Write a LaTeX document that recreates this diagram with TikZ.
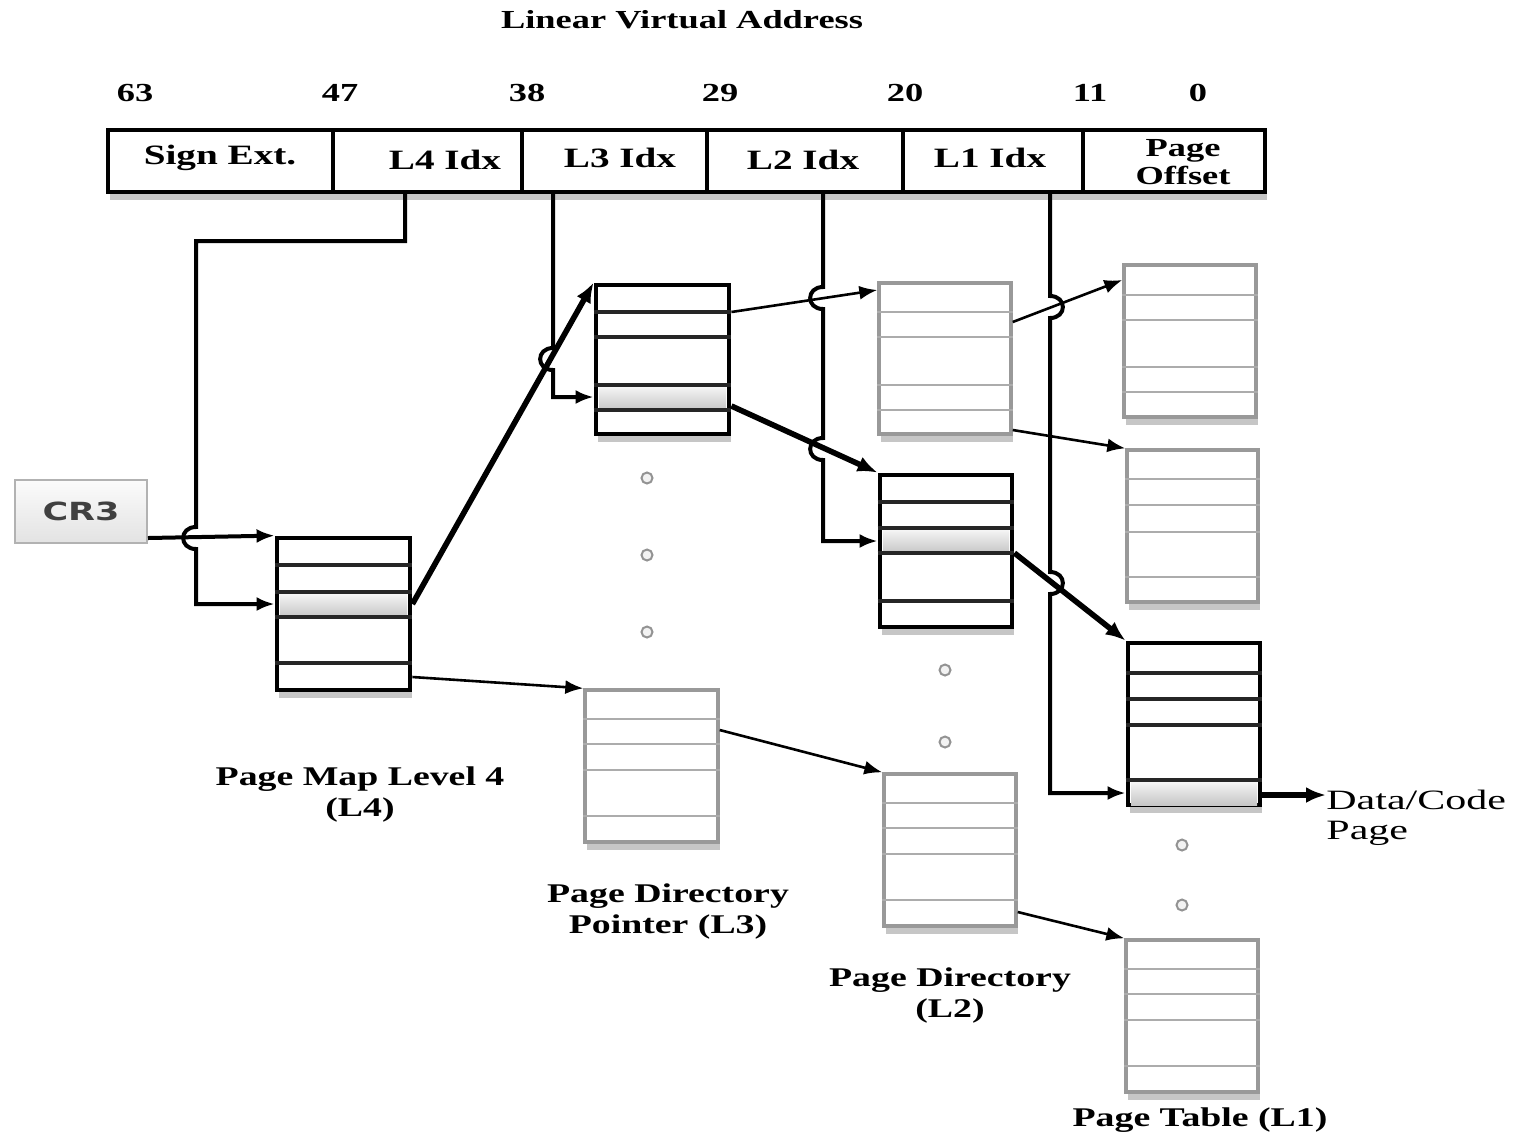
\documentclass[tikz,border=0pt]{standalone}
\usepackage{fontspec}
\setmainfont{Liberation Serif}[FakeStretch=1.4]
\newfontfamily\datafont{Liberation Serif}[FakeStretch=1.5]
\newfontfamily\crfont{DejaVu Sans}[FakeStretch=1.4]
\usetikzlibrary{arrows.meta,fit,shadows}

\tikzset{
  lbl/.style={inner sep=0pt, font=\bfseries\fontsize{13}{15}\selectfont},
  field/.style={inner sep=0pt, align=center, font=\bfseries\fontsize{14}{14}\selectfont},
  caption/.style={inner sep=0pt, align=center, font=\bfseries\fontsize{13.5}{15.5}\selectfont},
  tabshadow/.style={drop shadow={shadow xshift=1pt, shadow yshift=-4pt, opacity=0.45, fill=gray}},
  addrbar/.style={draw=black, line width=2pt, fill=white, inner sep=0pt, tabshadow},
  tabbold/.style={draw=black, line width=2.4pt, fill=white, inner sep=0pt, tabshadow},
  tabgray/.style={draw=gray!80, line width=1.7pt, fill=white, inner sep=0pt, tabshadow},
  rowbold/.style={draw=black!85, line width=1.6pt},
  rowgray/.style={draw=gray!65, line width=1.4pt},
  selrow/.style={top color=gray!5, bottom color=gray!45},
  idxline/.style={line width=2pt, -{Latex[length=9pt,width=7pt]}},
  ptr/.style={line width=1.3pt, -{Latex[length=9pt,width=7pt]}},
  ptrbold/.style={line width=2.8pt, -{Latex[length=10pt,width=8pt]}},
  gapdot/.style={circle, draw=gray!85, fill=gray!10, line width=1pt, minimum size=5.5pt, inner sep=0pt},
}

\begin{document}
\begin{tikzpicture}[x=0.5pt, y=-0.5pt]
  \useasboundingbox (0,0) rectangle (1524,1137);

  % virtual address
  \node[lbl] (title) at (682,20) {Linear Virtual Address};
  \foreach \x/\b in {135/63, 340/47, 527/38, 720/29, 905/20, 1090/11, 1198/0}
    \node[lbl] (bit\b) at (\x,93) {\b};
  \node[addrbar, fit={(108,130) (1265,192)}] (addr) {};
  \foreach \x in {333,522,707,903,1083}
    \draw[line width=2pt] (addr.north -| \x,0) -- (addr.south -| \x,0);
  \node[field] (sign) at (220,158) {Sign Ext.};
  \node[field] (l4idx) at (445,160) {L4 Idx};
  \node[field] (l3idx) at (620,158) {L3 Idx};
  \node[field] (l2idx) at (803,160) {L2 Idx};
  \node[field] (l1idx) at (990,158) {L1 Idx};
  \node[field, font=\bfseries\fontsize{13}{14}\selectfont] (offs) at (1183,162) {Page\\Offset};

  \node[draw=gray!60, line width=1pt, top color=gray!3, bottom color=gray!22,
        minimum width=66pt, minimum height=31.5pt, text=black!75,
        font=\crfont\bfseries\fontsize{12.5}{12.5}\selectfont] (cr3) at (81,511) {CR3};

  % tables
  \foreach \n/\s/\l/\r/\t/\b in {pml4/tabbold/277/410/538/690, pdpt/tabbold/596/729/285/434,
      pdptb/tabgray/585/718/690/842, pd/tabgray/879/1011/283/434, pdb/tabbold/880/1012/475/627,
      pdc/tabgray/884/1016/774/926, pta/tabgray/1124/1256/265/417, ptb/tabgray/1127/1258/450/602,
      ptc/tabbold/1128/1260/643/805, ptd/tabgray/1126/1258/940/1092}
    \node[\s, fit={(\l,\t) (\r,\b)}] (\n) {};
  \foreach \l/\r/\t/\b in {280/407/592/617, 599/726/385/410, 883/1009/528/553, 1131/1257/780/805}
    \path[selrow] (\l,\t) rectangle (\r,\b);
  \foreach \n/\s/\ys in {pml4/rowbold/{565,592,617,663}, pdpt/rowbold/{312,337,385,410},
      pdptb/rowgray/{719,744,770,816}, pd/rowgray/{312,337,385,410}, pdb/rowbold/{502,528,553,601},
      pdc/rowgray/{803,828,854,900}, pta/rowgray/{295,320,367,392}, ptb/rowgray/{479,505,532,577},
      ptc/rowbold/{673,699,725,780}, ptd/rowgray/{969,994,1020,1066}}
    \foreach \y in \ys
      \draw[\s] (\n.west |- 0,\y) -- (\n.east |- 0,\y);

  \foreach \x/\y [count=\i] in {647/478, 647/555, 647/632, 945/670, 945/742, 1182/845, 1182/905}
    \node[gapdot] (dot\i) at (\x,\y) {};

  % labels
  \node[caption] (l4cap) at (360,794) {Page Map Level 4\\(L4)};
  \node[caption] (l3cap) at (668,911) {Page Directory\\Pointer (L3)};
  \node[caption] (l2cap) at (950,995) {Page Directory\\(L2)};
  \node[caption] (l1cap) at (1200,1120) {Page Table (L1)};
  \node[anchor=west, inner sep=0pt, align=left, font=\datafont\fontsize{14}{15}\selectfont]
    (data) at (1326,818) {Data/Code\\Page};

  % walk
  \draw[ptrbold] (pml4.east |- 0,604) -- (pdpt.north west);
  \draw[ptrbold] (pdpt.east |- 0,406) -- (pdb.north west);
  \draw[ptrbold] (pdb.east |- 0,553) -- (ptc.north west);
  \draw[ptrbold] (ptc.east |- 0,795) -- (data.west |- 0,795);
  \draw[ptr] (pml4.east |- 0,677) -- (pdptb.north west);
  \draw[ptr] (pdptb.east |- 0,730) -- (pdc.north west);
  \draw[ptr] (pdc.east |- 0,912) -- (ptd.north west);
  \draw[ptr] (pdpt.east |- 0,312) -- (pd.west |- 0,290);
  \draw[ptr] (pd.east |- 0,322) -- (pta.west |- 0,280);
  \draw[ptr] (pd.east |- 0,430) -- (ptb.north west);

  % index bits
  \draw[idxline] (cr3.east |- 0,538) -- (pml4.north west);
  \draw[idxline] (addr.south -| 405,0) |- (196,241) -- (196,527)
    to[out=180,in=180,looseness=2] (196,549) |- (pml4.west |- 0,604);
  \draw[idxline] (addr.south -| 553,0) -- (553,348)
    to[out=180,in=180,looseness=2] (553,370) |- (pdpt.west |- 0,397);
  \draw[idxline] (addr.south -| 823,0) -- (823,287)
    to[out=180,in=180,looseness=2] (823,309) -- (823,438)
    to[out=180,in=180,looseness=2] (823,460) |- (pdb.west |- 0,541);
  \draw[idxline] (addr.south -| 1050,0) -- (1050,296)
    to[out=0,in=0,looseness=2] (1050,318) -- (1050,572)
    to[out=0,in=0,looseness=2] (1050,594) |- (ptc.west |- 0,793);
\end{tikzpicture}
\end{document}
